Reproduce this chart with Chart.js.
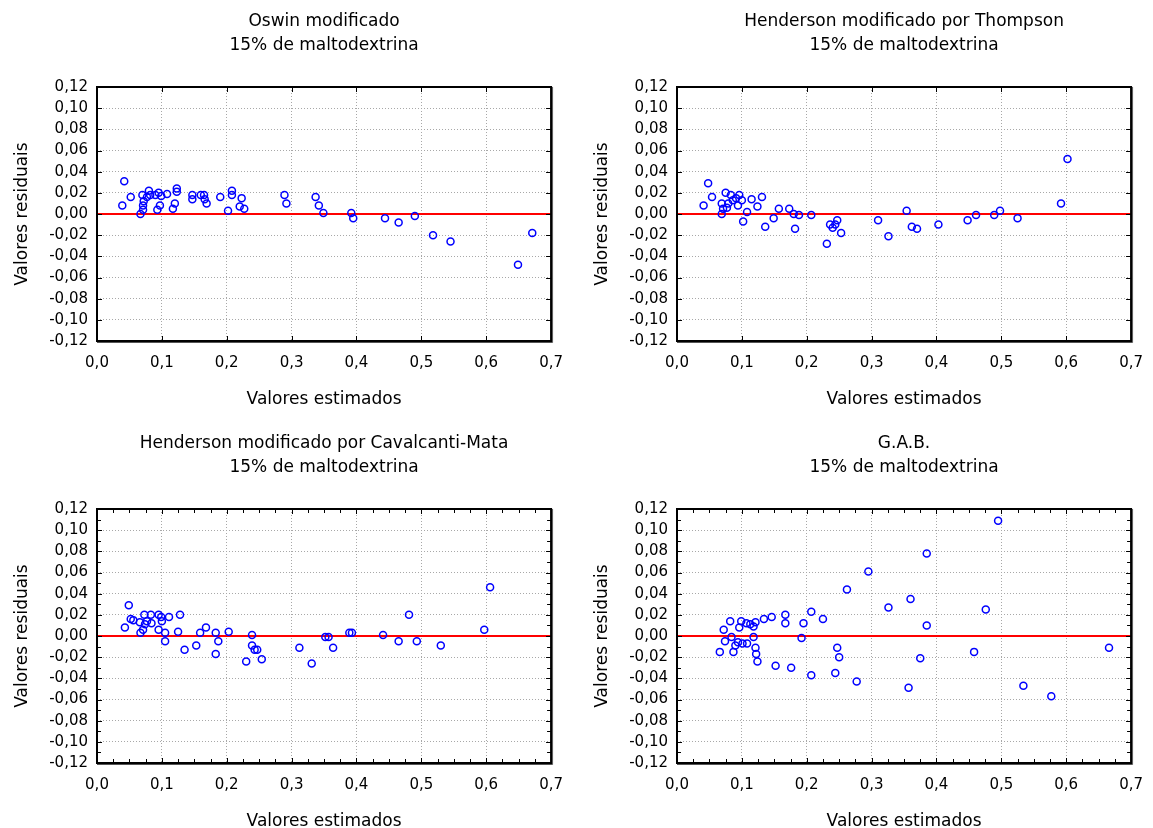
<!DOCTYPE html>
<html>
<head>
<meta charset="utf-8">
<title>Valores residuais x Valores estimados</title>
<script src="https://cdn.jsdelivr.net/npm/chart.js@4.4.1/dist/chart.umd.min.js"></script>
<style>
    html, body { margin: 0; padding: 0; background: #fff; overflow: hidden; width: 1153px; height: 828px; }
    .panel { position: absolute; }
</style>
</head>
<body>
<canvas id="chartOswin" class="panel" width="576" height="414" style="left:0;top:0"></canvas>
<canvas id="chartThompson" class="panel" width="576" height="414" style="left:580px;top:0"></canvas>
<canvas id="chartCavalcanti" class="panel" width="576" height="414" style="left:0;top:422px"></canvas>
<canvas id="chartGab" class="panel" width="576" height="414" style="left:580px;top:422px"></canvas>
<script>
// Axis limits and tick steps
const X_MIN = 0, X_MAX = 0.7, X_STEP = 0.1, X_MINOR_STEP = 0.025;
const Y_MIN = -0.12, Y_MAX = 0.12, Y_STEP = 0.02, Y_MINOR_STEP = 0.01;

const SUBTITLE = '15% de maltodextrina';
const X_TITLE = 'Valores estimados';
const Y_TITLE = 'Valores residuais';

// Oswin modificado
const oswinX = [0.042, 0.039, 0.052, 0.067, 0.070, 0.072, 0.071, 0.071, 0.080, 0.077, 0.082, 0.090,
    0.095, 0.093, 0.097, 0.099, 0.108, 0.123, 0.123, 0.120, 0.117, 0.147, 0.147, 0.160, 0.165, 0.166,
    0.169, 0.190, 0.202, 0.208, 0.208, 0.223, 0.220, 0.227, 0.289, 0.292, 0.337, 0.342, 0.349, 0.392,
    0.395, 0.444, 0.465, 0.490, 0.518, 0.545, 0.649, 0.671];
const oswinY = [0.031, 0.008, 0.016, 0.000, 0.018, 0.012, 0.008, 0.004, 0.022, 0.016, 0.018, 0.018,
    0.020, 0.004, 0.008, 0.017, 0.019, 0.024, 0.021, 0.010, 0.005, 0.018, 0.014, 0.018, 0.018, 0.014,
    0.010, 0.016, 0.003, 0.022, 0.018, 0.015, 0.007, 0.005, 0.018, 0.010, 0.016, 0.008, 0.001, 0.001,
    -0.004, -0.004, -0.008, -0.002, -0.020, -0.026, -0.048, -0.018];

// Henderson modificado por Thompson
const thompsonX = [0.048, 0.041, 0.054, 0.069, 0.069, 0.071, 0.075, 0.077, 0.079, 0.083, 0.086, 0.091,
    0.094, 0.096, 0.100, 0.102, 0.108, 0.115, 0.124, 0.131, 0.136, 0.149, 0.157, 0.173, 0.180, 0.182,
    0.188, 0.207, 0.231, 0.236, 0.240, 0.244, 0.247, 0.253, 0.310, 0.326, 0.354, 0.362, 0.370, 0.403,
    0.448, 0.461, 0.489, 0.498, 0.525, 0.592, 0.602];
const thompsonY = [0.029, 0.008, 0.016, 0.010, 0.000, 0.005, 0.020, 0.006, 0.010, 0.018, 0.013, 0.015,
    0.008, 0.018, 0.013, -0.007, 0.002, 0.014, 0.007, 0.016, -0.012, -0.004, 0.005, 0.005, 0.000, -0.014,
    -0.001, -0.001, -0.028, -0.010, -0.013, -0.010, -0.006, -0.018, -0.006, -0.021, 0.003, -0.012, -0.014,
    -0.010, -0.006, -0.001, -0.001, 0.003, -0.004, 0.010, 0.052];

// Henderson modificado por Cavalcanti-Mata
const cavalcantiX = [0.049, 0.043, 0.052, 0.056, 0.066, 0.067, 0.071, 0.073, 0.074, 0.077, 0.083, 0.084,
    0.095, 0.095, 0.100, 0.099, 0.105, 0.105, 0.111, 0.125, 0.128, 0.135, 0.153, 0.159, 0.168, 0.183,
    0.183, 0.187, 0.203, 0.230, 0.239, 0.239, 0.243, 0.247, 0.254, 0.312, 0.331, 0.352, 0.357, 0.364,
    0.389, 0.393, 0.441, 0.465, 0.481, 0.493, 0.530, 0.597, 0.606];
const cavalcantiY = [0.029, 0.008, 0.016, 0.015, 0.013, 0.003, 0.006, 0.020, 0.011, 0.014, 0.020, 0.012,
    0.020, 0.006, 0.014, 0.018, 0.003, -0.005, 0.018, 0.004, 0.020, -0.013, -0.009, 0.003, 0.008, 0.003,
    -0.017, -0.005, 0.004, -0.024, 0.001, -0.009, -0.013, -0.013, -0.022, -0.011, -0.026, -0.001, -0.001,
    -0.011, 0.003, 0.003, 0.001, -0.005, 0.020, -0.005, -0.009, 0.006, 0.046];

// G.A.B.
const gabX = [0.066, 0.072, 0.074, 0.082, 0.084, 0.087, 0.090, 0.094, 0.096, 0.099, 0.101, 0.107,
    0.108, 0.113, 0.118, 0.118, 0.121, 0.121, 0.122, 0.124, 0.134, 0.146, 0.152, 0.167, 0.167, 0.176,
    0.192, 0.195, 0.207, 0.207, 0.225, 0.244, 0.247, 0.250, 0.262, 0.277, 0.295, 0.326, 0.360, 0.357,
    0.385, 0.385, 0.375, 0.458, 0.476, 0.495, 0.534, 0.577, 0.666];
const gabY = [-0.015, 0.006, -0.005, 0.014, -0.001, -0.015, -0.009, -0.006, 0.008, 0.014, -0.007, 0.012,
    -0.007, 0.011, 0.009, -0.001, 0.013, -0.011, -0.017, -0.024, 0.016, 0.018, -0.028, 0.020, 0.012, -0.030,
    -0.002, 0.012, 0.023, -0.037, 0.016, -0.035, -0.011, -0.020, 0.044, -0.043, 0.061, 0.027, 0.035, -0.049,
    0.078, 0.010, -0.021, -0.015, 0.025, 0.109, -0.047, -0.057, -0.011];

const FONT = "'DejaVu Sans', 'Liberation Sans', sans-serif";

// Decimal comma labels, as in the original
function formatTick(value, decimals) {
    if (Math.abs(value) < 1e-9) value = 0;
    return value.toFixed(decimals).replace('.', ',');
}

// Ticks pointing inward on all four sides, plus the black frame
const frameTicksPlugin = {
    id: 'frameTicks',
    afterDatasetsDraw(chart, args, opts) {
        const { ctx, chartArea: a, scales } = chart;
        ctx.save();
        ctx.strokeStyle = '#000';
        ctx.lineWidth = 1;
        ctx.beginPath();

        function xTicks(step, len) {
            const n = Math.round((X_MAX - X_MIN) / step);
            for (let i = 0; i <= n; i++) {
                const px = Math.round(scales.x.getPixelForValue(X_MIN + i * step)) + 0.5;
                ctx.moveTo(px, a.top); ctx.lineTo(px, a.top + len);
                ctx.moveTo(px, a.bottom); ctx.lineTo(px, a.bottom - len);
            }
        }
        function yTicks(step, len) {
            const n = Math.round((Y_MAX - Y_MIN) / step);
            for (let i = 0; i <= n; i++) {
                const py = Math.round(scales.y.getPixelForValue(Y_MIN + i * step)) + 0.5;
                ctx.moveTo(a.left, py); ctx.lineTo(a.left + len, py);
                ctx.moveTo(a.right, py); ctx.lineTo(a.right - len, py);
            }
        }
        xTicks(X_STEP, 5);
        yTicks(Y_STEP, 5);
        if (opts.minor) {
            xTicks(X_MINOR_STEP, 4);
            yTicks(Y_MINOR_STEP, 4);
        }
        ctx.stroke();

        ctx.lineWidth = 2;
        ctx.strokeRect(a.left, a.top, a.right - a.left, a.bottom - a.top);
        // slight shadow on right and bottom edges
        ctx.strokeStyle = '#555';
        ctx.lineWidth = 1;
        ctx.beginPath();
        ctx.moveTo(a.right + 1.5, a.top);
        ctx.lineTo(a.right + 1.5, a.bottom + 1.5);
        ctx.lineTo(a.left, a.bottom + 1.5);
        ctx.stroke();
        ctx.restore();
    }
};

function createResidualChart(canvasId, titleLine, xs, ys, minorTicks) {
    const ctx = document.getElementById(canvasId).getContext('2d');
    const points = xs.map((x, i) => ({ x: x, y: ys[i] }));
    const zeroLine = [{ x: X_MIN, y: 0 }, { x: X_MAX, y: 0 }];

    return new Chart(ctx, {
        type: 'scatter',
        data: {
            datasets: [{
                data: points,
                order: 0,
                pointStyle: 'circle',
                pointRadius: 3.5,
                pointBorderWidth: 1.5,
                pointBorderColor: '#0000ff',
                pointBackgroundColor: 'rgba(0,0,0,0)'
            }, {
                type: 'line',
                data: zeroLine,
                order: 1,
                borderColor: '#ff0000',
                borderWidth: 2,
                pointRadius: 0
            }]
        },
        options: {
            responsive: false,
            animation: false,
            events: [],
            layout: { padding: { top: 0, left: 0, right: 21, bottom: 0 } },
            scales: {
                x: {
                    type: 'linear',
                    min: X_MIN,
                    max: X_MAX,
                    afterFit: scale => { scale.height = 73; },
                    ticks: {
                        stepSize: X_STEP,
                        autoSkip: false,
                        maxRotation: 0,
                        padding: 13,
                        color: '#000',
                        font: { family: FONT, size: 15 },
                        callback: value => formatTick(value, 1)
                    },
                    grid: { color: '#a8a8a8', lineWidth: 1, drawTicks: false },
                    border: { display: false, dash: [1, 2] },
                    title: {
                        display: true,
                        text: X_TITLE,
                        color: '#000',
                        font: { family: FONT, size: 17 },
                        padding: { top: 0, bottom: 4 }
                    }
                },
                y: {
                    type: 'linear',
                    min: Y_MIN,
                    max: Y_MAX,
                    afterFit: scale => { scale.width = 97; },
                    ticks: {
                        stepSize: Y_STEP,
                        autoSkip: false,
                        maxTicksLimit: 20,
                        padding: 9,
                        color: '#000',
                        font: { family: FONT, size: 15 },
                        callback: value => formatTick(value, 2)
                    },
                    grid: { color: '#a8a8a8', lineWidth: 1, drawTicks: false },
                    border: { display: false, dash: [1, 2] },
                    title: {
                        display: true,
                        text: Y_TITLE,
                        color: '#000',
                        font: { family: FONT, size: 17 },
                        padding: { top: 12, bottom: 0 }
                    }
                }
            },
            plugins: {
                legend: { display: false },
                tooltip: { enabled: false },
                title: {
                    display: true,
                    fullSize: false,
                    text: [titleLine, SUBTITLE],
                    color: '#000',
                    font: { family: FONT, size: 17, weight: 'normal', lineHeight: 24 / 17 },
                    padding: { top: 10, bottom: 29 }
                },
                frameTicks: { minor: minorTicks }
            }
        },
        plugins: [frameTicksPlugin]
    });
}

createResidualChart('chartOswin', 'Oswin modificado', oswinX, oswinY, false);
createResidualChart('chartThompson', 'Henderson modificado por Thompson', thompsonX, thompsonY, false);
createResidualChart('chartCavalcanti', 'Henderson modificado por Cavalcanti-Mata', cavalcantiX, cavalcantiY, true);
createResidualChart('chartGab', 'G.A.B.', gabX, gabY, true);
</script>
</body>
</html>
